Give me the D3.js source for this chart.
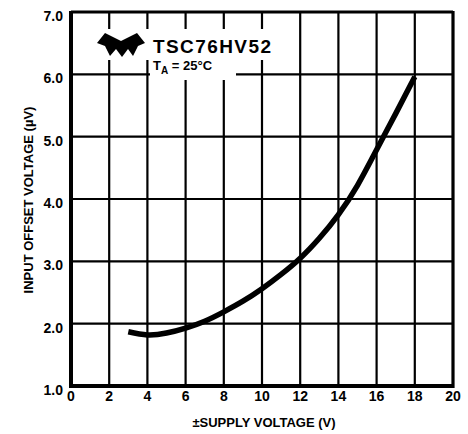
<!DOCTYPE html>
<html lang="en">
<head>
<meta charset="UTF-8">
<title>Input offset voltage vs supply voltage</title>
<script src="https://cdn.jsdelivr.net/npm/d3@7"></script>
<style>
  body { margin: 0; background: #fff; }
  text { font-family: "Liberation Sans", Arial, sans-serif; font-weight: bold; fill: #000; }
</style>
</head>
<body>
<div id="output"></div>
<script>
// supply voltage (V) and input offset voltage (uV)
var supply = [3, 4, 5, 6, 7, 8, 9, 10, 11, 12, 13, 14, 15, 16, 17, 18];
var offset = [1.87, 1.82, 1.85, 1.93, 2.04, 2.19, 2.36, 2.56, 2.79, 3.05, 3.37, 3.75, 4.22, 4.79, 5.37, 5.96];
var xTicks = [0, 2, 4, 6, 8, 10, 12, 14, 16, 18, 20];
var yTicks = [1, 2, 3, 4, 5, 6, 7];

var w = 468, h = 434;
var svg = d3.select("#output").append("svg")
    .attr("width", w)
    .attr("height", h);

var x = d3.scaleLinear().domain([0, 20]).range([71, 453]);
var y = d3.scaleLinear().domain([1, 7]).range([386, 12]);

// grid
svg.selectAll(".vg").data(xTicks.slice(1, -1)).enter().append("line")
    .attr("x1", d => x(d)).attr("x2", d => x(d))
    .attr("y1", y(7)).attr("y2", y(1))
    .attr("stroke", "#000").attr("stroke-width", 2.2);
svg.selectAll(".hg").data(yTicks.slice(1, -1)).enter().append("line")
    .attr("x1", x(0)).attr("x2", x(20))
    .attr("y1", d => y(d)).attr("y2", d => y(d))
    .attr("stroke", "#000").attr("stroke-width", 2.2);

// white patch behind the title block
svg.append("rect").attr("x", 92).attr("y", 29).attr("width", 186).attr("height", 31).attr("fill", "#fff");
svg.append("rect").attr("x", 150).attr("y", 60).attr("width", 86).attr("height", 20).attr("fill", "#fff");

// frame
svg.append("line").attr("x1", x(0)).attr("x2", x(0)).attr("y1", y(7) - 1).attr("y2", y(1) + 2)
    .attr("stroke", "#000").attr("stroke-width", 4);
svg.append("line").attr("x1", x(20)).attr("x2", x(20)).attr("y1", y(7) - 1).attr("y2", y(1) + 2)
    .attr("stroke", "#000").attr("stroke-width", 3.2);
svg.append("line").attr("x1", x(0)).attr("x2", x(20)).attr("y1", y(7)).attr("y2", y(7))
    .attr("stroke", "#000").attr("stroke-width", 3);
svg.append("line").attr("x1", x(0)).attr("x2", x(20)).attr("y1", y(1)).attr("y2", y(1))
    .attr("stroke", "#000").attr("stroke-width", 4);

// curve
var line = d3.line()
    .x((d, i) => x(supply[i]))
    .y(d => y(d))
    .curve(d3.curveNatural);
svg.append("path")
    .datum(offset)
    .attr("d", line)
    .attr("fill", "none")
    .attr("stroke", "#000")
    .attr("stroke-width", 5.5);

// tick labels
svg.selectAll(".yl").data(yTicks).enter().append("text")
    .attr("x", 63).attr("y", d => y(d) + 9)
    .attr("text-anchor", "end")
    .style("font-size", "14px")
    .text(d => d.toFixed(1));
svg.selectAll(".xl").data(xTicks).enter().append("text")
    .attr("x", d => x(d)).attr("y", 401)
    .attr("text-anchor", "middle")
    .style("font-size", "14px")
    .text(d => d);

// axis titles
svg.append("text")
    .attr("x", 264).attr("y", 427)
    .attr("text-anchor", "middle")
    .style("font-size", "13px")
    .text("\u00B1SUPPLY VOLTAGE (V)");
svg.append("text")
    .attr("transform", "translate(33,200) rotate(-90)")
    .attr("text-anchor", "middle")
    .style("font-size", "13px")
    .text("INPUT OFFSET VOLTAGE (\u00B5V)");

// logo
svg.append("path")
    .attr("d", "M97,43 L105,33 L113,37 L121,41 L129,37 L137,33 L145,43 L138,46 L133,56 L128,49 L122,57 L116,49 L110,56 L105,46 Z")
    .attr("fill", "#000");

// title
svg.append("text")
    .attr("x", 153).attr("y", 53)
    .style("font-size", "19px")
    .attr("textLength", 118)
    .text("TSC76HV52");
var ta = svg.append("text")
    .attr("x", 153).attr("y", 70)
    .style("font-size", "13px");
ta.append("tspan").text("T");
ta.append("tspan").attr("dy", 4).style("font-size", "10px").text("A");
ta.append("tspan").attr("dy", -4).text(" = 25\u00B0C");
</script>
</body>
</html>
